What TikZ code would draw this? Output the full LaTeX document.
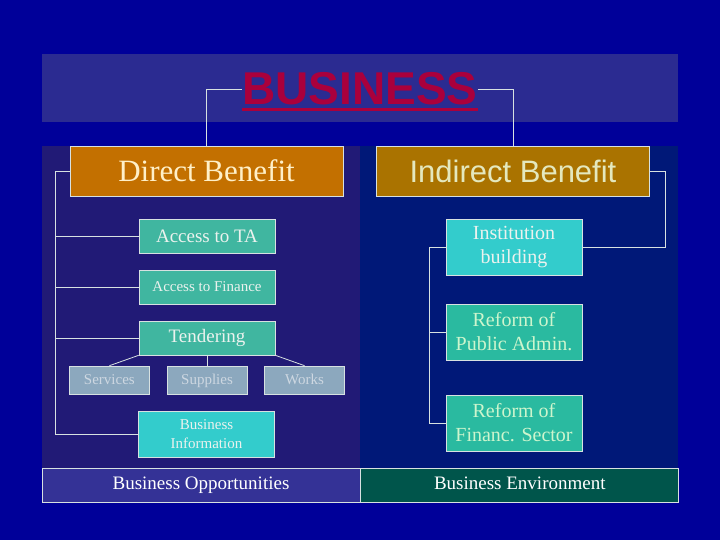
\documentclass[tikz,border=0pt]{standalone}
\usepackage{fontspec}
\setmainfont{Liberation Serif}
\newfontfamily\headfont{Liberation Sans}
\usepackage{xcolor}
\definecolor{navy-bg}{RGB}{0,0,153}
\definecolor{navy-band}{RGB}{43,43,145}
\definecolor{navy-left}{RGB}{33,26,118}
\definecolor{navy-right}{RGB}{0,24,120}
\definecolor{crimson}{RGB}{170,0,60}
\definecolor{orange-700}{RGB}{195,112,0}
\definecolor{gold-700}{RGB}{170,115,0}
\definecolor{cream}{RGB}{255,240,200}
\definecolor{cream-green}{RGB}{228,232,190}
\definecolor{teal-500}{RGB}{64,182,160}
\definecolor{teal-400}{RGB}{42,186,160}
\definecolor{cyan-500}{RGB}{51,204,204}
\definecolor{steel-300}{RGB}{140,168,190}
\definecolor{steel-100}{RGB}{205,215,225}
\definecolor{mint-100}{RGB}{205,245,205}
\definecolor{white-90}{RGB}{235,242,238}
\definecolor{indigo-600}{RGB}{52,50,150}
\definecolor{pine-800}{RGB}{0,85,75}
\definecolor{edge}{RGB}{215,225,225}
\usepackage{tikz}
\usetikzlibrary{positioning}

\begin{document}
\begin{tikzpicture}[
    x=1pt, y=-1pt,
    head box/.style={
        draw=edge,
        line width=0.8pt,
        fill=#1,
        minimum width=273pt,
        minimum height=50pt,
        inner sep=0pt
    },
    item box/.style={
        draw=edge,
        line width=0.6pt,
        fill=#1,
        minimum width=136pt,
        minimum height=34pt,
        inner sep=0pt,
        align=center,
        text=white-90,
        font=\fontsize{19}{24}\selectfont
    },
    sub box/.style={
        draw=edge,
        line width=0.6pt,
        fill=steel-300,
        minimum width=80pt,
        minimum height=28pt,
        inner sep=0pt,
        text height=11pt,
        text depth=3pt,
        text=steel-100,
        font=\fontsize{15}{18}\selectfont
    },
    base box/.style={
        draw=edge,
        line width=0.8pt,
        fill=#1,
        minimum width=318pt,
        minimum height=34pt,
        inner sep=0pt,
        text height=13pt,
        text depth=4pt,
        text=white,
        font=\fontsize{19}{23}\selectfont
    },
    link/.style={draw=edge, line width=0.8pt}
]

% === BACKGROUND AND PANELS ===
\useasboundingbox (0,0) rectangle (720,540);
\fill[navy-bg] (0,0) rectangle (720,540);
\fill[navy-band] (42,54) rectangle (678,122);
\fill[navy-left] (42,146) rectangle (360,468);
\fill[navy-right] (360,146) rectangle (678,468);

% === TITLE ===
\node[anchor=base, inner sep=0pt, text=crimson,
      font=\headfont\bfseries\fontsize{46}{50}\selectfont] (business) at (360,105) {BUSINESS};
\draw[crimson, line width=3pt] ([yshift=-5pt]business.base west) -- ([yshift=-5pt]business.base east);

% === BENEFIT HEADERS ===
\node[head box=orange-700, text=cream, font=\fontsize{31}{36}\selectfont] (direct) at (206.5,171) {Direct Benefit};
\node[head box=gold-700, text=cream-green, font=\headfont\fontsize{31}{36}\selectfont] (indirect) at (513,171) {Indirect Benefit};

% === DIRECT SIDE ===
\node[item box=teal-500] (accta) at (207,236) {Access to TA};
\node[item box=teal-500, font=\fontsize{15}{18}\selectfont] (accfin) at (207,287) {Access to Finance};
\node[item box=teal-500] (tender) at (207,338) {Tendering};

\node[sub box] (supplies) at (207,380) {Supplies};
\node[sub box, left=17pt of supplies] (services) {Services};
\node[sub box, right=17pt of supplies] (works) {Works};

\node[item box=cyan-500, minimum height=46pt, font=\fontsize{15}{19}\selectfont] (businfo) at (206.5,434) {Business\\Information};

% === INDIRECT SIDE ===
\node[item box=cyan-500, minimum height=56pt, font=\fontsize{20}{24}\selectfont] (instbuild) at (514,247) {Institution\\building};
\node[item box=teal-400, minimum height=56pt, text=mint-100, font=\fontsize{20}{24}\selectfont] (pubadmin) at (514,332) {Reform of\\Public Admin.};
\node[item box=teal-400, minimum height=56pt, text=mint-100, font=\fontsize{20}{24}\selectfont] (finsector) at (514,423) {Reform of\\Financ. Sector};

% === BOTTOM BAR ===
\node[base box=indigo-600] (opport) at (201,485) {Business Opportunities};
\node[base box=pine-800, right=0pt of opport] (environ) {Business Environment};

% === CONNECTORS ===
% Title to headers
\draw[link] (business.west) -| (direct.north);
\draw[link] (business.east) -| (indirect.north);

% Direct side spine
\coordinate (lspine) at (55,171);
\draw[link] (direct.west) -- (lspine) |- (businfo.west);
\draw[link] (lspine |- accta.west) -- (accta.west);
\draw[link] (lspine |- accfin.west) -- (accfin.west);
\draw[link] (lspine |- tender.west) -- (tender.west);

% Tendering to its parts
\draw[link] (tender.south west) -- (services.north);
\draw[link] (tender.south) -- (supplies.north);
\draw[link] (tender.south east) -- (works.north);

% Indirect side
\coordinate (rspine) at (665,171);
\draw[link] (indirect.east) -- (rspine) |- (instbuild.east);
\coordinate (mspine) at (429,247);
\draw[link] (instbuild.west) -- (mspine) |- (finsector.west);
\draw[link] (mspine |- pubadmin.west) -- (pubadmin.west);

\end{tikzpicture}
\end{document}
